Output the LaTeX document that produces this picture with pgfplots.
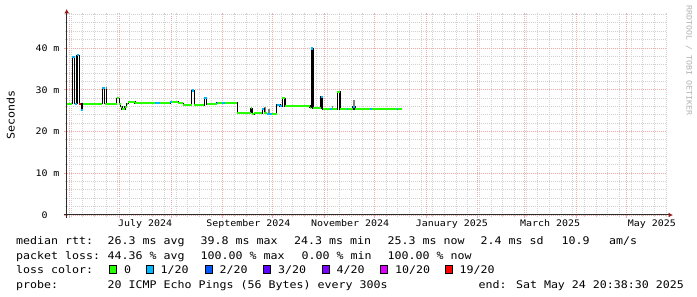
\documentclass[border=0pt]{standalone}
\usepackage{pgfplots}
\pgfplotsset{compat=1.18}
\usepackage{fontspec}
\usetikzlibrary{arrows.meta}
\newfontfamily\dvm{DejaVu Sans Mono}[FakeStretch=1.107]
\newcommand\lf{\dvm\fontsize{10.5}{12}\selectfont}
\newcommand\af{\dvm\fontsize{9}{10}\selectfont}
\newcommand\wf{\dvm\fontsize{7.5}{9}\selectfont}
\definecolor{l0}{HTML}{26FF00}
\definecolor{l1}{HTML}{00B8FF}
\definecolor{l2}{HTML}{0059FF}
\definecolor{l3}{HTML}{5E00FF}
\definecolor{l4}{HTML}{7E00FF}
\definecolor{l10}{HTML}{DD00FF}
\definecolor{l19}{HTML}{FF0000}
\definecolor{mgrid}{HTML}{F0ABAB}
\definecolor{mingrid}{HTML}{D2D2D2}
\definecolor{axiscol}{HTML}{2C2C2C}
\definecolor{arrowcol}{HTML}{9A1C1C}
\begin{document}
\begin{tikzpicture}[x=1pt,y=1pt]
\useasboundingbox (0,0) rectangle (697,297);
\fill[white] (0,0) rectangle (697,297);
\begin{axis}[
  at={(66.7pt,82pt)}, anchor=south west,
  scale only axis, width=600pt, height=202.07pt,
  xmin=-31.56, xmax=328.44, ymin=0, ymax=48.4,
  axis x line*=bottom, axis y line*=left,
  x axis line style={draw=axiscol, line width=1pt, shorten <=-3pt, shorten >=-6.3pt, -{Latex[length=4.5pt,width=5pt,color=arrowcol]}},
  y axis line style={draw=axiscol, line width=1pt, shorten <=-3pt, shorten >=-4pt, -{Latex[length=4.5pt,width=5pt,color=arrowcol]}},
  xtick={-30,0,31,62,92,123,153,184,215,243,274,304},
  xticklabels={,,,,,,,,,,,},
  minor xtick={-29,-22,...,328},
  ytick={0,10,20,30,40},
  yticklabels={0\hphantom{00},10 m,20 m,30 m,40 m},
  minor ytick={2,4,...,48},
  grid=both,
  major grid style={draw=mgrid, line width=0.9pt, dash pattern=on 1pt off 1pt},
  minor grid style={draw=mingrid, line width=0.9pt, dash pattern=on 1pt off 1pt},
  tick align=outside,
  major tick length=3pt, minor tick length=2pt,
  major tick style={draw=mgrid, line width=0.9pt},
  minor tick style={draw=mingrid, line width=0.9pt},
  tick label style={font=\af},
  yticklabel style={anchor=east, inner sep=0pt, xshift=-4pt},
  extra x ticks={15.5,77.5,138.5,199.5,258.5,319.5},
  extra x tick labels={July 2024,September 2024,November 2024,January 2025,March 2025,May 2025},
  extra x tick style={grid=none, major tick length=0pt, tick style={draw=none}, xticklabel style={anchor=base, yshift=-12pt, inner sep=0pt}},
  unbounded coords=jump,
]
% smoke (spread) spikes
\addplot[draw=black, line width=1.4pt] coordinates {
(-25.8,26.67) (-25.8,30.3) (-25.8,nan)
(-7.8,26.67) (-7.8,30.1) (-7.8,nan)
};
\addplot[draw=gray, line width=1.4pt] coordinates {
(-7.8,30.1) (-7.8,30.7) (-7.8,nan)
(87.42,24.4) (87.42,25.8) (87.42,nan)
(89.82,24.25) (89.82,25.5) (89.82,nan)
(127.92,25.3) (127.92,26.0) (127.92,nan)
(140.7,25.3) (140.7,27.5) (140.7,nan)
};
% median rtt transitions
\addplot[const plot, draw=black, line width=1.4pt] coordinates {
(-31.56,26.67) (-28.2,37.84) (-26.76,26.67) (-25.38,38.24) (-24.0,26.67)
(-22.8,25.2) (-21.96,26.67) (-10.2,30.34) (-8.76,26.67) (-1.56,27.94)
(0,26.67) (0.84,25.95) (1.62,25.3) (3.42,25.95) (4.44,26.67) (5.4,27.07)
(9.42,26.8) (21.42,26.85) (24.42,26.8) (30.42,27.0) (31.62,27.05)
(35.4,26.75) (38.4,26.35) (43.44,29.8) (45.12,26.35) (51.0,27.94)
(52.44,26.6) (58.44,26.8) (59.4,26.8) (61.44,26.85) (63.42,26.9)
(70.8,24.5) (79.02,25.55) (79.8,24.2) (81.0,24.4) (85.8,25.4) (87.0,24.4)
(88.44,24.25) (91.44,24.25) (94.44,26.35) (96.42,26.1) (97.8,27.94)
(99.42,26.1) (114.42,25.7) (115.2,39.9) (116.22,25.55) (121.02,28.3)
(122.04,25.3) (126.42,25.3) (127.44,25.3) (130.8,29.5) (132.42,25.3)
(136.44,25.3) (137.4,25.3) (140.22,25.9) (141.42,25.3) (150.42,25.3)
(151.44,25.3) (166.44,25.3) (167.4,25.3) (169.44,25.3)
};
% median rtt, 0 loss
\addplot[jump mark left, draw=l0, line width=2.2pt] coordinates {
(-31.56,26.67) (-28.2,37.84) (-26.76,26.67) (-25.38,38.24) (-24.0,26.67)
(-22.8,25.2) (-21.96,26.67) (-10.2,30.34) (-8.76,26.67) (-1.56,27.94)
(0,26.67) (0.84,25.95) (1.62,25.3) (3.42,25.95) (4.44,26.67) (5.4,27.07)
(9.42,26.8) (21.42,26.85) (24.42,26.8) (30.42,27.0) (31.62,27.05)
(35.4,26.75) (38.4,26.35) (43.44,29.8) (45.12,26.35) (51.0,27.94)
(52.44,26.6) (58.44,26.8) (59.4,26.8) (61.44,26.85) (63.42,26.9)
(70.8,24.5) (79.02,25.55) (79.8,24.2) (81.0,24.4) (85.8,25.4) (87.0,24.4)
(88.44,24.25) (91.44,24.25) (94.44,26.35) (96.42,26.1) (97.8,27.94)
(99.42,26.1) (114.42,25.7) (115.2,39.9) (116.22,25.55) (121.02,28.3)
(122.04,25.3) (126.42,25.3) (127.44,25.3) (130.8,29.5) (132.42,25.3)
(136.44,25.3) (137.4,25.3) (140.22,25.9) (141.42,25.3) (150.42,25.3)
(151.44,25.3) (166.44,25.3) (167.4,25.3) (169.44,25.3)
};
% median rtt, 1/20 loss
\addplot[draw=l1, line width=2.2pt] coordinates {
(-28.2,37.84) (-26.76,37.84) (-26.76,nan)
(-26.76,26.67) (-25.38,26.67) (-25.38,nan)
(-25.38,38.24) (-24.0,38.24) (-24.0,nan)
(-22.8,25.2) (-21.96,25.2) (-21.96,nan)
(-10.2,30.34) (-8.76,30.34) (-8.76,nan)
(21.42,26.85) (24.42,26.85) (24.42,nan)
(30.42,27.0) (31.62,27.0) (31.62,nan)
(43.44,29.8) (45.12,29.8) (45.12,nan)
(51.0,27.94) (52.44,27.94) (52.44,nan)
(58.44,26.8) (59.4,26.8) (59.4,nan)
(61.44,26.85) (63.42,26.85) (63.42,nan)
(85.8,25.4) (87.0,25.4) (87.0,nan)
(88.44,24.25) (91.44,24.25) (91.44,nan)
(94.44,26.35) (96.42,26.35) (96.42,nan)
(96.42,26.1) (97.8,26.1) (97.8,nan)
(115.2,39.9) (116.22,39.9) (116.22,nan)
(121.02,28.3) (122.04,28.3) (122.04,nan)
(126.42,25.3) (127.44,25.3) (127.44,nan)
(136.44,25.3) (137.4,25.3) (137.4,nan)
(140.22,25.9) (141.42,25.9) (141.42,nan)
(150.42,25.3) (151.44,25.3) (151.44,nan)
(166.44,25.3) (167.4,25.3)
};
% median rtt, 19/20 loss
\addplot[draw=l19, line width=2.2pt] coordinates {(-24.0,26.67) (-22.8,26.67)};
\end{axis}
% axis title and watermark
\node[rotate=90, font=\lf, inner sep=0pt] at (10.8,182) {Seconds};
\node[rotate=-90, font=\wf, text=black!30, inner sep=0pt] at (689,236.5) {RRDTOOL / TOBI OETIKER};
% legend
\begin{scope}[every node/.style={anchor=base west, inner sep=0pt, font=\lf}]
\node at (16,52) {median rtt:};
\node at (107.5,52) {26.3 ms avg};
\node at (200.5,52) {39.8 ms max};
\node at (294,52) {24.3 ms min};
\node at (387.5,52) {25.3 ms now};
\node at (480.5,52) {2.4 ms sd};
\node at (561.5,52) {10.9};
\node at (609,52) {am/s};
\node at (16,37.5) {packet loss:};
\node at (107.5,37.5) {44.36 \% avg};
\node at (200.5,37.5) {100.00 \% max};
\node at (301.5,37.5) {0.00 \% min};
\node at (387.5,37.5) {100.00 \% now};
\node at (16,23) {loss color:};
\node at (124,23) {0};
\node at (160.5,23) {1/20};
\node at (219.5,23) {2/20};
\node at (278,23) {3/20};
\node at (336.5,23) {4/20};
\node at (395,23) {10/20};
\node at (459.5,23) {19/20};
\node at (16,8.5) {probe:};
\node at (107.5,8.5) {20 ICMP Echo Pings (56 Bytes) every 300s};
\node at (478.5,8.5) {end: Sat May 24 20:38:30 2025};
\end{scope}
\filldraw[fill=l0, draw=black, line width=0.8pt] (109,24) rectangle (116,32);
\filldraw[fill=l1, draw=black, line width=0.8pt] (146,24) rectangle (153,32);
\filldraw[fill=l2, draw=black, line width=0.8pt] (205,24) rectangle (212,32);
\filldraw[fill=l3, draw=black, line width=0.8pt] (263.5,24) rectangle (270.5,32);
\filldraw[fill=l4, draw=black, line width=0.8pt] (322,24) rectangle (329,32);
\filldraw[fill=l10, draw=black, line width=0.8pt] (380.5,24) rectangle (387.5,32);
\filldraw[fill=l19, draw=black, line width=0.8pt] (445,24) rectangle (452,32);
\end{tikzpicture}
\end{document}
